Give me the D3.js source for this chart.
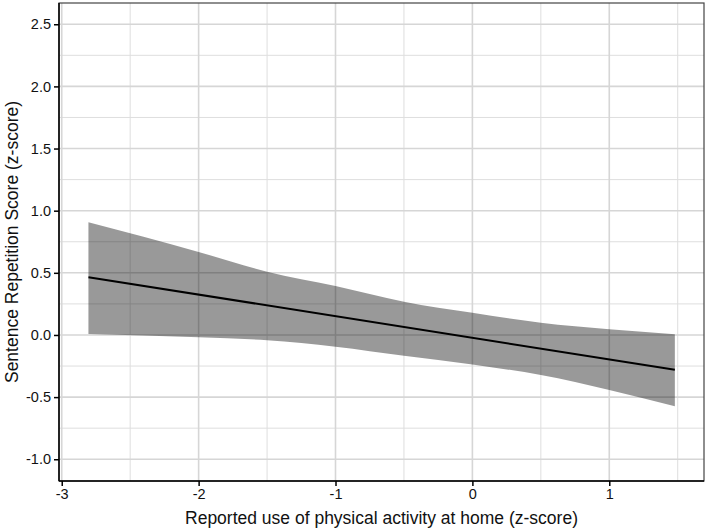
<!DOCTYPE html>
<html>
<head>
<meta charset="utf-8">
<script src="https://cdnjs.cloudflare.com/ajax/libs/d3/7.8.5/d3.min.js"></script>
<style>
  body { margin: 0; background: #fff; }
  text { font-family: "Liberation Sans", Arial, sans-serif; }
</style>
</head>
<body>
<script>
// values
var bandX     = [-2.805, -2, -1.5, -1, -0.5, 0, 0.5, 1, 1.479];
var bandUpper = [0.907, 0.668, 0.509, 0.394, 0.268, 0.178, 0.099, 0.046, 0.006];
var bandLower = [0.008, -0.019, -0.042, -0.094, -0.167, -0.238, -0.322, -0.442, -0.574];
var lineX = [-2.805, 1.479];
var lineY = [0.465, -0.28];

var xTicks = [-3, -2, -1, 0, 1];
var xMinor = [-2.5, -1.5, -0.5, 0.5, 1.5];
var yTicks = [-1.0, -0.5, 0.0, 0.5, 1.0, 1.5, 2.0, 2.5];
var yMinor = [-0.75, -0.25, 0.25, 0.75, 1.25, 1.75, 2.25];

var W = 708, H = 529;
var margin = {top: 3, right: 4, bottom: 48, left: 59};
var width = W - margin.left - margin.right,
    height = H - margin.top - margin.bottom;

var svg = d3.select("body").append("svg")
    .attr("width", W)
    .attr("height", H);

var g = svg.append("g")
    .attr("transform", "translate(" + margin.left + "," + margin.top + ")");

var x = d3.scaleLinear().domain([-3.02, 1.692]).range([0, width]);
var y = d3.scaleLinear().domain([-1.175, 2.671]).range([height, 0]);

// grid, minor then major
g.selectAll(".xminor").data(xMinor).enter().append("line")
    .attr("x1", d => x(d)).attr("x2", d => x(d))
    .attr("y1", 0).attr("y2", height)
    .attr("stroke", "#dedede").attr("stroke-width", 1);
g.selectAll(".yminor").data(yMinor).enter().append("line")
    .attr("y1", d => y(d)).attr("y2", d => y(d))
    .attr("x1", 0).attr("x2", width)
    .attr("stroke", "#dedede").attr("stroke-width", 1);
g.selectAll(".xmajor").data(xTicks).enter().append("line")
    .attr("x1", d => x(d)).attr("x2", d => x(d))
    .attr("y1", 0).attr("y2", height)
    .attr("stroke", "#d6d6d6").attr("stroke-width", 1.6);
g.selectAll(".ymajor").data(yTicks).enter().append("line")
    .attr("y1", d => y(d)).attr("y2", d => y(d))
    .attr("x1", 0).attr("x2", width)
    .attr("stroke", "#d6d6d6").attr("stroke-width", 1.6);

// confidence band
var band = bandX.map((v, i) => ({x: v, lo: bandLower[i], hi: bandUpper[i]}));
g.append("path")
    .datum(band)
    .attr("fill", "#000")
    .attr("fill-opacity", 0.4)
    .attr("d", d3.area().curve(d3.curveMonotoneX)
        .x(d => x(d.x)).y0(d => y(d.lo)).y1(d => y(d.hi)));

// fitted line
g.append("path")
    .datum(lineX.map((v, i) => [v, lineY[i]]))
    .attr("fill", "none")
    .attr("stroke", "#000")
    .attr("stroke-width", 2)
    .attr("d", d3.line().x(d => x(d[0])).y(d => y(d[1])));

// panel border
g.append("rect")
    .attr("x", 0).attr("y", 0)
    .attr("width", width).attr("height", height)
    .attr("fill", "none")
    .attr("stroke", "#444").attr("stroke-width", 1.2);

// axes (plain hyphen minus like the original)
var xAxis = g.append("g")
    .attr("transform", "translate(0," + height + ")")
    .call(d3.axisBottom(x).tickValues(xTicks).tickFormat(d => String(d)).tickSize(5).tickPadding(3));
var yAxis = g.append("g")
    .call(d3.axisLeft(y).tickValues(yTicks).tickFormat(d => d.toFixed(1)).tickSize(5).tickPadding(3));

[xAxis, yAxis].forEach(function(a) {
    a.select(".domain").attr("stroke", "#000").attr("stroke-width", 1.5);
    a.selectAll(".tick line").attr("stroke", "#000").attr("stroke-width", 1.5);
    a.selectAll(".tick text")
        .attr("fill", "#111")
        .style("font-size", "14.5px")
        .style("font-family", "'Liberation Sans', Arial, sans-serif");
});
xAxis.select(".domain").attr("d", "M0,0H" + width);
yAxis.select(".domain").attr("d", "M0,0V" + height);

// axis titles
svg.append("text")
    .attr("x", margin.left + width / 2)
    .attr("y", H - 5)
    .attr("text-anchor", "middle")
    .style("font-size", "17.5px")
    .attr("fill", "#111")
    .text("Reported use of physical activity at home (z-score)");

svg.append("text")
    .attr("transform", "translate(18," + (margin.top + height / 2) + ") rotate(-90)")
    .attr("text-anchor", "middle")
    .style("font-size", "17.5px")
    .attr("fill", "#111")
    .text("Sentence Repetition Score (z-score)");
</script>
</body>
</html>
